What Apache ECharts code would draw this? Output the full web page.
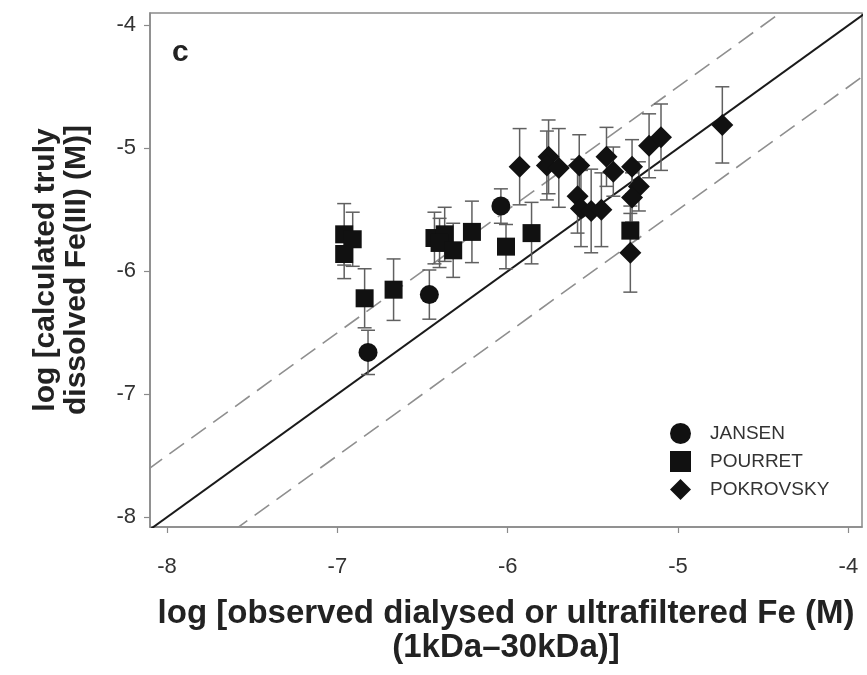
<!DOCTYPE html>
<html><head><meta charset="utf-8">
<script src="https://cdn.jsdelivr.net/npm/echarts@6/dist/echarts.min.js"></script>
<style>html,body{margin:0;padding:0;background:#fff}#c{width:867px;height:675px}</style>
</head><body><div id="c"></div>
<script>
const xTicks = [-8, -7, -6, -5, -4];
const yTicks = [-8, -7, -6, -5, -4];

const jansenX = [-6.82, -6.46, -6.04];
const jansenY = [-6.66, -6.19, -5.47];
const jansenErr = [0.18, 0.20, 0.14];

const pourretX = [-6.96, -6.91, -6.96, -6.84, -6.67, -6.43, -6.37, -6.40, -6.32, -6.21, -6.01, -5.86, -5.28];
const pourretY = [-5.70, -5.74, -5.86, -6.22, -6.15, -5.73, -5.70, -5.77, -5.83, -5.68, -5.80, -5.69, -5.67];
const pourretErr = [0.25, 0.22, 0.20, 0.24, 0.25, 0.21, 0.22, 0.20, 0.22, 0.25, 0.18, 0.25, 0.20];

const pokrovskyX = [-5.93, -5.76, -5.77, -5.70, -5.58, -5.59, -5.57, -5.51, -5.45, -5.42, -5.38, -5.27, -5.17, -5.10, -5.23, -5.27, -5.28, -4.74];
const pokrovskyY = [-5.15, -5.07, -5.14, -5.16, -5.14, -5.39, -5.49, -5.51, -5.50, -5.07, -5.19, -5.15, -4.98, -4.91, -5.31, -5.40, -5.85, -4.81];
const pokrovskyErr = [0.31, 0.30, 0.28, 0.32, 0.25, 0.30, 0.31, 0.34, 0.30, 0.24, 0.20, 0.22, 0.26, 0.27, 0.20, 0.20, 0.32, 0.31];

// reference lines (1:1 and +/-0.5 log units), endpoints
const lineOneToOne = [[-8.5, -8.5], [-3.5, -3.5]];
const lineUpper = [[-8.5, -8.0], [-4.0, -3.5]];
const lineLower = [[-8.0, -8.5], [-3.5, -4.0]];

const seriesNames = ['JANSEN', 'POURRET', 'POKROVSKY'];

function pts(xs, ys) { return xs.map((x, i) => [x, ys[i]]); }
function errPts(xs, ys, es) { return xs.map((x, i) => [x, ys[i], es[i]]); }

function renderErr(params, api) {
  const x = api.value(0), y = api.value(1), e = api.value(2);
  const top = api.coord([x, y + e]);
  const bot = api.coord([x, y - e]);
  const cap = 7;
  const style = { stroke: '#606060', lineWidth: 1.5 };
  return {
    type: 'group',
    children: [
      { type: 'line', shape: { x1: top[0], y1: top[1], x2: bot[0], y2: bot[1] }, style: style },
      { type: 'line', shape: { x1: top[0] - cap, y1: top[1], x2: top[0] + cap, y2: top[1] }, style: style },
      { type: 'line', shape: { x1: bot[0] - cap, y1: bot[1], x2: bot[0] + cap, y2: bot[1] }, style: style }
    ]
  };
}

function errSeries(name, data) {
  return { name: name, type: 'custom', renderItem: renderErr, data: data, z: 3, silent: true,
    encode: { x: 0, y: 1 } };
}

function refLine(data, type, color, width) {
  return { type: 'line', data: data, showSymbol: false, silent: true, z: 2, clip: true,
    lineStyle: { color: color, width: width, type: type } };
}

const chart = echarts.init(document.getElementById('c'));
chart.setOption({
  animation: false,
  backgroundColor: '#fff',
  grid: { left: 150, top: 13, right: 5, bottom: 148, show: true, borderColor: '#8a8a8a', borderWidth: 1.5 },
  xAxis: {
    type: 'value', min: -8.1, max: -3.92,
    splitLine: { show: false },
    axisLine: { show: true, lineStyle: { color: '#8a8a8a', width: 1.5 } },
    axisTick: { show: true, inside: false, length: 6, customValues: xTicks, lineStyle: { color: '#8a8a8a', width: 1.2 } },
    axisLabel: { customValues: xTicks, fontSize: 22, color: '#333', margin: 29, fontFamily: 'Liberation Sans, Arial, sans-serif' },
    name: 'log [observed dialysed or ultrafiltered Fe (M)\n(1kDa\u201330kDa)]',
    nameLocation: 'middle', nameGap: 70,
    nameTextStyle: { fontSize: 33, fontWeight: 'bold', color: '#222', lineHeight: 34, fontFamily: 'Liberation Sans, Arial, sans-serif' }
  },
  yAxis: {
    type: 'value', min: -8.08, max: -3.9,
    splitLine: { show: false },
    axisLine: { show: true, lineStyle: { color: '#8a8a8a', width: 1.5 } },
    axisTick: { show: true, inside: false, length: 6, customValues: yTicks, lineStyle: { color: '#8a8a8a', width: 1.2 } },
    axisLabel: { customValues: yTicks, fontSize: 22, color: '#333', margin: 14, fontFamily: 'Liberation Sans, Arial, sans-serif' },
    name: 'log [calculated truly\ndissolved Fe(III) (M)]',
    nameLocation: 'middle', nameGap: 58,
    nameTextStyle: { fontSize: 30, fontWeight: 'bold', color: '#222', lineHeight: 31, fontFamily: 'Liberation Sans, Arial, sans-serif' }
  },
  legend: {
    data: seriesNames,
    orient: 'vertical', left: 665, top: 418,
    itemWidth: 21, itemHeight: 21, itemGap: 7,
    textStyle: { fontSize: 19, color: '#333', padding: [0, 0, 0, 14], fontFamily: 'Liberation Sans, Arial, sans-serif' }
  },
  graphic: [
    { type: 'text', left: 172, top: 38, style: { text: 'c', fontSize: 30, fontWeight: 'bold', fill: '#222', fontFamily: 'Liberation Sans, Arial, sans-serif' } }
  ],
  series: [
    refLine(lineOneToOne, 'solid', '#1a1a1a', 2),
    refLine(lineUpper, [18, 9], '#8f8f8f', 1.6),
    refLine(lineLower, [18, 9], '#8f8f8f', 1.6),
    errSeries('errJ', errPts(jansenX, jansenY, jansenErr)),
    errSeries('errP', errPts(pourretX, pourretY, pourretErr)),
    errSeries('errK', errPts(pokrovskyX, pokrovskyY, pokrovskyErr)),
    { name: 'JANSEN', type: 'scatter', symbol: 'circle', symbolSize: 19, z: 5,
      itemStyle: { color: '#111', opacity: 1 }, data: pts(jansenX, jansenY) },
    { name: 'POURRET', type: 'scatter', symbol: 'rect', symbolSize: 18, z: 5,
      itemStyle: { color: '#111', opacity: 1 }, data: pts(pourretX, pourretY) },
    { name: 'POKROVSKY', type: 'scatter', symbol: 'diamond', symbolSize: 22, z: 5,
      itemStyle: { color: '#111', opacity: 1 }, data: pts(pokrovskyX, pokrovskyY) }
  ]
});
</script></body></html>
